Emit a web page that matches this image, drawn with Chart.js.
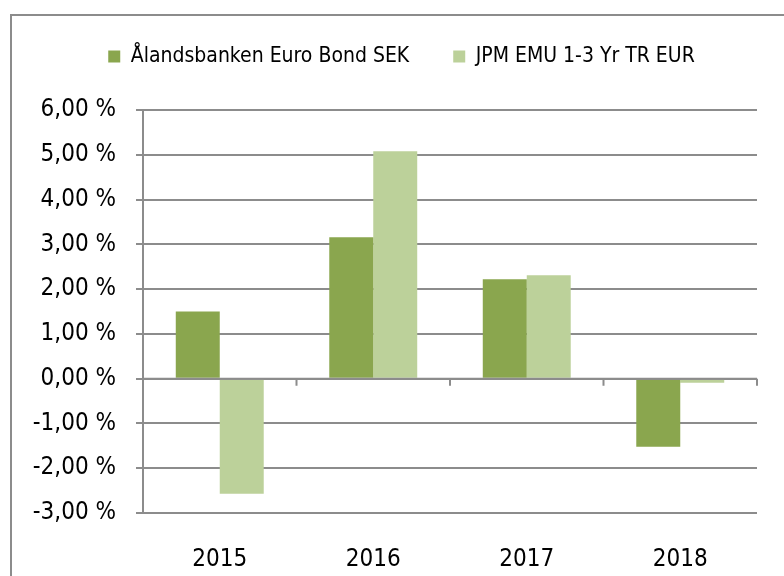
<!DOCTYPE html>
<html><head><meta charset="utf-8">
<script src="https://cdn.jsdelivr.net/npm/chart.js@4/dist/chart.umd.min.js"></script>
<style>
html,body{margin:0;padding:0;background:#fff;overflow:hidden}
#frame{position:absolute;left:10px;top:14px;width:800px;height:600px;border-top:2px solid #8c8c8c;border-left:2px solid #8c8c8c}
#wrap{position:absolute;left:0;top:0;width:784px;height:576px}
</style></head><body>
<div id="frame"></div>
<div id="wrap"><canvas id="c" width="784" height="576"></canvas></div>
<script>
const categories = ["2015","2016","2017","2018"];
const seriesNames = ["Ålandsbanken Euro Bond SEK","JPM EMU 1-3 Yr TR EUR"];
const fundValues = [1.50, 3.16, 2.22, -1.52];
const benchValues = [-2.57, 5.08, 2.31, -0.09];
const yMin = -3, yMax = 6, yStep = 1;

const FONT = "'Liberation Sans Narrow', 'DejaVu Sans Condensed', 'Liberation Sans', sans-serif";
const GRID = '#8c8c8c';

const fmt = v => v.toFixed(2).replace('.', ',') + ' %';

const legendHeight = {
  id: 'legendHeight',
  beforeInit(chart) {
    const orig = chart.legend.fit;
    chart.legend.fit = function () { orig.call(this); this.height = 108; };
  },
  afterLayout(chart) {
    chart.legend.left += 23;
    chart.legend.right += 23;
  }
};

const zeroAxis = {
  id: 'zeroAxis',
  afterDatasetsDraw(chart) {
    const {ctx, chartArea, scales: {x, y}} = chart;
    const y0 = y.getPixelForValue(0);
    ctx.save();
    ctx.strokeStyle = GRID;
    ctx.lineWidth = 2;
    ctx.beginPath();
    ctx.moveTo(chartArea.left, y0);
    ctx.lineTo(chartArea.right, y0);
    const n = categories.length;
    for (let i = 0; i <= n; i++) {
      const px = chartArea.left + (chartArea.right - chartArea.left) * i / n;
      ctx.moveTo(px, y0);
      ctx.lineTo(px, y0 + 7);
    }
    ctx.stroke();
    ctx.restore();
  }
};

new Chart(document.getElementById('c'), {
  type: 'bar',
  data: {
    labels: categories,
    datasets: [
      {label: seriesNames[0], data: fundValues, backgroundColor: '#8aa64e', borderWidth: 0},
      {label: seriesNames[1], data: benchValues, backgroundColor: '#bcd19a', borderWidth: 0}
    ]
  },
  options: {
    responsive: false,
    animation: false,
    devicePixelRatio: 1,
    layout: {padding: {left: 0, right: 27, top: 2, bottom: 0}},
    datasets: {bar: {categoryPercentage: 0.573, barPercentage: 1.0}},
    plugins: {
      legend: {
        position: 'top',
        labels: {
          font: {family: FONT, size: 21},
          color: '#000',
          boxWidth: 12, boxHeight: 12,
          padding: 44,
          generateLabels(chart) {
            return chart.data.datasets.map((d, i) => ({
              text: d.label, fillStyle: d.backgroundColor, strokeStyle: d.backgroundColor,
              lineWidth: 0, hidden: false, datasetIndex: i, fontColor: '#000'
            }));
          }
        }
      },
      tooltip: {enabled: false}
    },
    scales: {
      x: {
        grid: {display: false},
        border: {display: false},
        ticks: {font: {family: FONT, size: 24}, color: '#000', padding: 24},
        afterFit(s) { s.height = 63; }
      },
      y: {
        min: yMin, max: yMax,
        ticks: {stepSize: yStep, font: {family: FONT, size: 24}, color: '#000', padding: 20, callback: v => fmt(v)},
        grid: {color: GRID, lineWidth: 2, tickLength: 7},
        border: {color: GRID, width: 2},
        afterFit(s) { s.width = 143; }
      }
    }
  },
  plugins: [legendHeight, zeroAxis]
});
</script>
</body></html>
